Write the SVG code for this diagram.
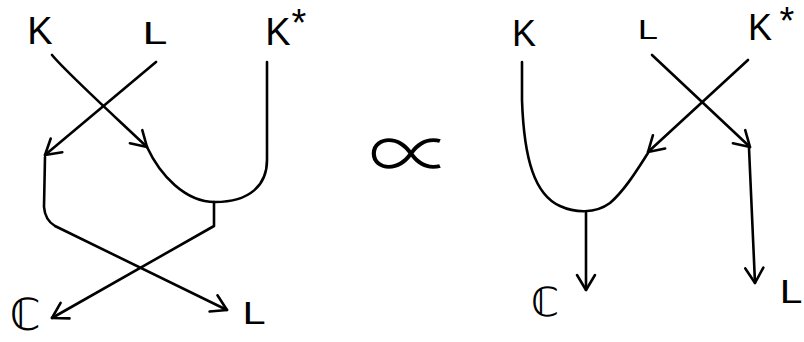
<svg xmlns="http://www.w3.org/2000/svg" width="804" height="342" viewBox="0 0 804 342">
<style>
.w{fill:none;stroke:#000;stroke-width:2.6;stroke-linecap:round;stroke-linejoin:round}
.lab{font-family:"Liberation Sans","DejaVu Sans",sans-serif;fill:#000;text-anchor:middle}
.bb{font-family:"DejaVu Sans",sans-serif;fill:#000;text-anchor:middle}
</style>
<defs>
<marker id="ah" markerUnits="userSpaceOnUse" markerWidth="30" markerHeight="30" viewBox="-20 -15 30 30" refX="0" refY="0" orient="auto">
<path d="M-15,-9 L0,0 L-15,9" fill="none" stroke="#000" stroke-width="2.6" stroke-linecap="round" stroke-linejoin="round"/>
</marker>
</defs>
<rect width="804" height="342" fill="#fff"/>
<g id="connectors">
<path class="w" d="M52,55 C66,72 110,112 147,147" marker-end="url(#ah)"/>
<path class="w" d="M147,147 C160,175 185,202 215,202 C250,202 267,185 267,160 L267,62"/>
<path class="w" d="M214,202 L214,226 L52,318" marker-end="url(#ah)"/>
<path class="w" d="M156,62 L45,155" marker-end="url(#ah)"/>
<path class="w" d="M45,157 L44,207 Q45,220 55,226 L227,310" marker-end="url(#ah)"/>
<path class="w" d="M748,60 L648,152" marker-end="url(#ah)"/>
<path class="w" d="M522,62 L522,100 C524,160 535,195 560,206 C575,213 595,214 610,203 C625,190 637,170 648,153"/>
<path class="w" d="M586,213 L586,290" marker-end="url(#ah)"/>
<path class="w" d="M652,55 L750,147" marker-end="url(#ah)"/>
<path class="w" d="M749,148 L755,283" marker-end="url(#ah)"/>
</g>
<g id="l-K"><text class="lab" x="40" y="44" font-size="38">K</text></g>
<g id="l-L"><text class="lab" x="155" y="44" font-size="32" transform="translate(155 0) scale(1.4 1) translate(-155 0)">L</text></g>
<g id="l-Kstar"><text class="lab" x="278" y="45" font-size="38">K</text><text class="lab" x="299" y="36" font-size="38">*</text></g>
<g id="l-C"><text class="bb" x="25" y="330" font-size="44">ℂ</text></g>
<g id="l-Lout"><text class="lab" x="254" y="324" font-size="32" transform="translate(254 0) scale(1.3 1) translate(-254 0)">L</text></g>
<g id="prop"><text x="411" y="182" font-family="Noto Sans CJK JP,Noto Sans CJK SC,DejaVu Sans,sans-serif" font-weight="300" font-size="76" text-anchor="middle" fill="#000" transform="translate(411 0) scale(1.12 1) translate(-411 0)">∝</text></g>
<g id="r-K"><text class="lab" x="524" y="46" font-size="36">K</text></g>
<g id="r-L"><text class="lab" x="648" y="39" font-size="28" transform="translate(648 0) scale(1.3 1) translate(-648 0)">L</text></g>
<g id="r-Kstar"><text class="lab" x="760" y="40" font-size="36">K</text><text class="lab" x="787" y="34" font-size="38">*</text></g>
<g id="r-C"><text class="bb" x="545" y="316" font-size="40">ℂ</text></g>
<g id="r-Lout"><text class="lab" x="791" y="303" font-size="34" transform="translate(791 0) scale(1.2 1) translate(-791 0)">L</text></g>
</svg>
